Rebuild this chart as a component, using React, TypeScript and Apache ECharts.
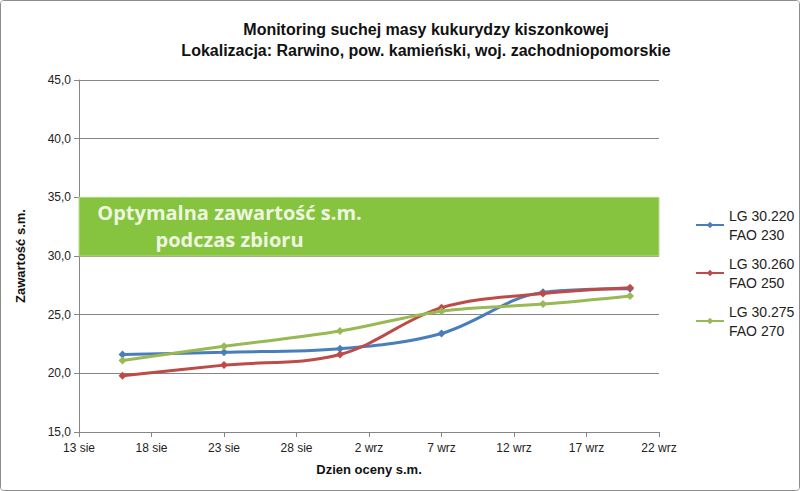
import React, { useEffect, useRef } from 'react';
import * as echarts from 'echarts';

// dni pomiarów
const dates = ['2013-08-16', '2013-08-23', '2013-08-31', '2013-09-07', '2013-09-14', '2013-09-20'];
const startDate = '2013-08-13';
const tickLabels = ['13 sie', '18 sie', '23 sie', '28 sie', '2 wrz', '7 wrz', '12 wrz', '17 wrz', '22 wrz'];

const seriesNames = ['LG 30.220\nFAO 230', 'LG 30.260\nFAO 250', 'LG 30.275\nFAO 270'];
const lg220 = [21.6, 21.8, 22.1, 23.4, 26.9, 27.2];
const lg260 = [19.8, 20.7, 21.6, 25.6, 26.8, 27.3];
const lg275 = [21.1, 22.3, 23.6, 25.3, 25.9, 26.6];
const colors = ['#4a7ebb', '#be4b48', '#98b954'];

const optimumRange = [30, 35];

const dayOffset = (d: string) =>
  (Date.parse(d + 'T00:00:00Z') - Date.parse(startDate + 'T00:00:00Z')) / 86400000;

const FONT = '"Liberation Sans", sans-serif';

const App: React.FC = () => {
  const chartRef = useRef<HTMLDivElement>(null);

  useEffect(() => {
    document.body.style.margin = '0';
    if (!chartRef.current) return;
    const chart = echarts.init(chartRef.current, undefined, { renderer: 'svg' });

    const mkSeries = (name: string, values: number[], color: string, i: number) => ({
      name,
      type: 'line',
      smooth: 0.35,
      symbol: 'diamond',
      symbolSize: 8,
      lineStyle: { width: 3, color },
      itemStyle: { color },
      data: dates.map((d, k) => [dayOffset(d), values[k]]),
      z: 3 + i,
      ...(i === 0
        ? {
            markArea: {
              silent: true,
              itemStyle: { color: '#86c440', borderColor: '#b6dc8c', borderWidth: 1 },
              label: {
                show: true,
                position: [151, 29],
                align: 'center',
                verticalAlign: 'middle',
                color: '#eef6e0',
                fontSize: 20,
                fontWeight: 'bold',
                fontFamily: '"Open Sans", sans-serif',
                lineHeight: 27,
              },
              data: [
                [
                  { yAxis: optimumRange[0], name: 'Optymalna zawartość s.m.\npodczas zbioru' },
                  { yAxis: optimumRange[1] },
                ],
              ],
              z: 1,
            },
          }
        : {}),
    });

    chart.setOption({
      animation: false,
      backgroundColor: '#fff',
      title: {
        text: 'Monitoring suchej masy kukurydzy kiszonkowej\nLokalizacja: Rarwino, pow. kamieński, woj. zachodniopomorskie',
        left: 420,
        top: 13,
        textAlign: 'center',
        textStyle: {
          fontSize: 16,
          fontWeight: 'bold',
          fontFamily: FONT,
          color: '#111',
          lineHeight: 21,
        },
      },
      legend: {
        orient: 'vertical',
        left: 689,
        top: 200,
        itemWidth: 28,
        itemHeight: 8,
        itemGap: 10,
        data: seriesNames,
        textStyle: { fontSize: 14, fontFamily: FONT, color: '#222', lineHeight: 19 },
      },
      grid: { left: 78, right: 140, top: 79, bottom: 58 },
      xAxis: {
        type: 'value',
        min: 0,
        max: 40,
        interval: 5,
        name: 'Dzien oceny s.m.',
        nameLocation: 'middle',
        nameGap: 31,
        nameTextStyle: { fontSize: 13, fontWeight: 'bold', fontFamily: FONT, color: '#111' },
        axisLine: { lineStyle: { color: '#868686' } },
        axisTick: { show: true, lineStyle: { color: '#868686' } },
        axisLabel: {
          fontSize: 12,
          fontFamily: FONT,
          color: '#222',
          margin: 10,
          formatter: (v: number) => tickLabels[Math.round(v / 5)] ?? '',
        },
        splitLine: { show: false },
      },
      yAxis: {
        type: 'value',
        min: 15,
        max: 45,
        interval: 5,
        name: 'Zawartość s.m.',
        nameLocation: 'middle',
        nameGap: 52,
        nameTextStyle: { fontSize: 13, fontWeight: 'bold', fontFamily: FONT, color: '#111' },
        axisLine: { show: true, lineStyle: { color: '#868686' } },
        axisTick: { show: true, lineStyle: { color: '#868686' } },
        axisLabel: {
          fontSize: 12,
          fontFamily: FONT,
          color: '#222',
          formatter: (v: number) => v.toFixed(1).replace('.', ','),
        },
        splitLine: { lineStyle: { color: '#868686', width: 1 } },
      },
      series: [
        mkSeries(seriesNames[0], lg220, colors[0], 0),
        mkSeries(seriesNames[1], lg260, colors[1], 1),
        mkSeries(seriesNames[2], lg275, colors[2], 2),
      ],
    });

    return () => {
      chart.dispose();
    };
  }, []);

  return (
    <div
      style={{
        width: 800,
        height: 491,
        boxSizing: 'border-box',
        border: '1px solid #8c8c8c',
        borderRadius: 4,
        overflow: 'hidden',
      }}
    >
      <div ref={chartRef} style={{ width: 798, height: 489 }}></div>
    </div>
  );
};

export default App;
